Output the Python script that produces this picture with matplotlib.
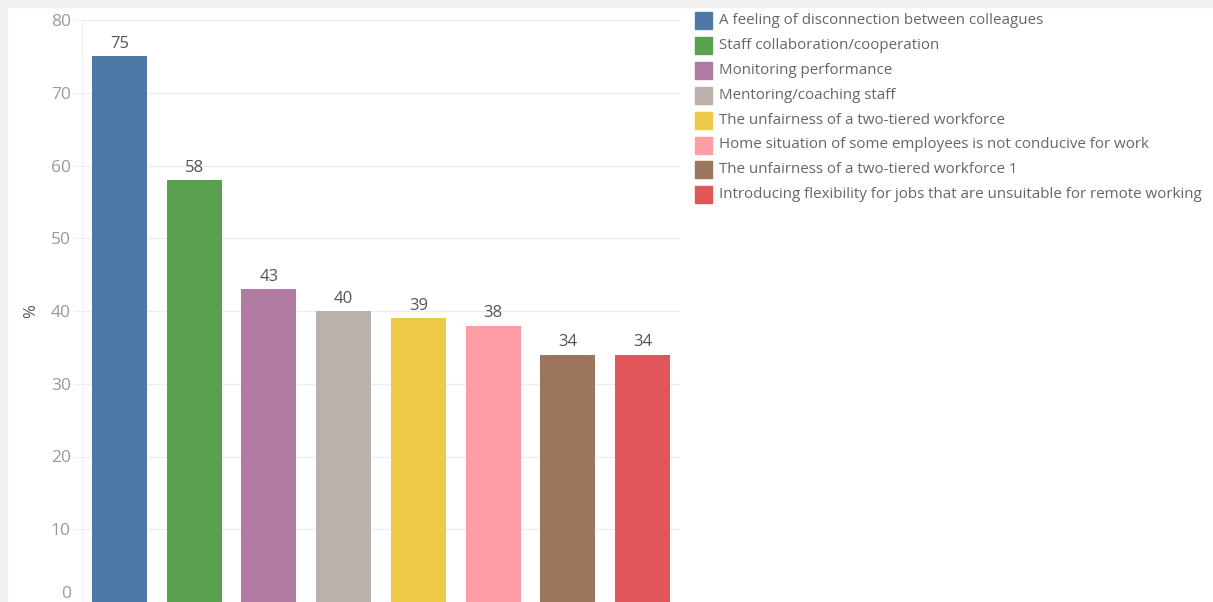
import matplotlib.pyplot as plt
from matplotlib.patches import Rectangle

# Share of respondents per challenge (%)
categories = [
    'A feeling of disconnection between colleagues',
    'Staff collaboration/cooperation',
    'Monitoring performance',
    'Mentoring/coaching staff',
    'The unfairness of a two-tiered workforce',
    'Home situation of some employees is not conducive for work',
    'The unfairness of a two-tiered workforce 1',
    'Introducing flexibility for jobs that are unsuitable for remote working',
]
values = [75, 58, 43, 40, 39, 38, 34, 34]
colors = ['#4e79a7', '#59a14f', '#b07aa1', '#bab0ac',
          '#edc948', '#ff9da7', '#9c755f', '#e15759']
y_ticks = [0, 10, 20, 30, 40, 50, 60, 70, 80]

plt.rcParams['font.family'] = ['Open Sans', 'DejaVu Sans']

W, H = 1213, 602
fig = plt.figure(figsize=(W / 100, H / 100), dpi=100)
fig.patch.set_facecolor('white')

# light gray frame on the top and left edges
fig.patches.append(Rectangle((0, 1 - 7 / H), 1, 7 / H, transform=fig.transFigure,
                             color='#f0f0f0', zorder=0))
fig.patches.append(Rectangle((0, 0), 7 / W, 1, transform=fig.transFigure,
                             color='#f0f0f0', zorder=0))

ax = fig.add_axes([82 / W, 0, (680 - 82) / W, (602 - 20) / H])
x = list(range(len(values)))
bars = ax.bar(x, values, width=0.737, color=colors, zorder=2)
ax.set_xlim(-0.5, len(values) - 0.5)
ax.set_ylim(0, 80)
ax.set_xticks([])
ax.set_yticks(y_ticks)
ax.yaxis.grid(True, color='#eeeeee', linewidth=1)
ax.set_axisbelow(True)
for s in ['top', 'right', 'bottom']:
    ax.spines[s].set_visible(False)
ax.spines['left'].set_color('#f0f0f0')
ax.tick_params(axis='y', length=6, color='#eeeeee', labelcolor='#999999',
               labelsize=12.5, pad=2)
ax.get_yticklabels()[0].set_verticalalignment('bottom')
ax.set_ylabel('%', color='#555555', fontsize=12)
ax.yaxis.set_label_coords(-0.072, 0.5)

# value labels above each bar
for bar, v in zip(bars, values):
    ax.annotate(str(v), (bar.get_x() + bar.get_width() / 2, v),
                xytext=(0, 3), textcoords='offset points',
                ha='center', va='bottom', fontsize=12, color='#555555')

# color legend to the right
for i, (label, c) in enumerate(zip(categories, colors)):
    yc = 20.5 + i * 24.9
    fig.patches.append(Rectangle((695 / W, 1 - (yc + 8.5) / H), 17 / W, 17 / H,
                                 transform=fig.transFigure, color=c))
    fig.text(719 / W, 1 - yc / H, label, ha='left', va='center',
             fontsize=10.9, color='#666666')

fig.savefig('out.png', dpi=100)
